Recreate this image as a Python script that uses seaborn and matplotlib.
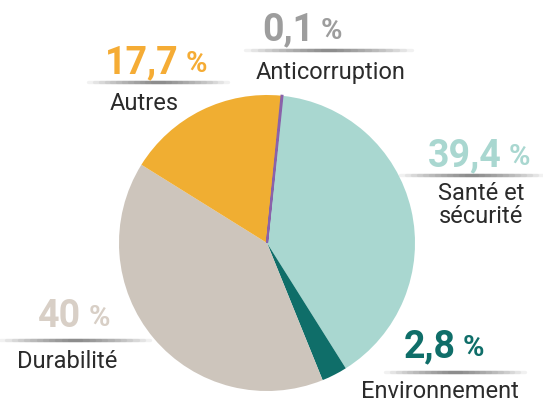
import matplotlib.pyplot as plt
from matplotlib.lines import Line2D
import seaborn as sns

sns.set_style('white')
plt.rcParams['font.family'] = ['Roboto', 'DejaVu Sans']

# slices, clockwise from the top
categories = ['Santé et\nsécurité', 'Environnement', 'Durabilité', 'Autres', 'Anticorruption']
shares = [39.4, 2.8, 40.0, 17.7, 0.1]
share_labels = ['39,4', '2,8', '40', '17,7', '0,1']
slice_colors = ['#a9d7d0', '#0f6e69', '#cdc5bc', '#f0ae32', '#8a62aa']
number_colors = ['#a9d7d0', '#0f6e69', '#d8cfc6', '#f5ac35', '#9d9d9d']

W, H = 543, 407
fig = plt.figure(figsize=(W / 100, H / 100), dpi=100)

def fx(x):
    return x / W

def fy(y):
    return 1 - y / H

# pie area: centre (267, 243), radius 148 px
ax = fig.add_axes([fx(119), fy(391), 296 / W, 296 / H])
wedges, _ = ax.pie(shares, colors=slice_colors, startangle=84, counterclock=False,
                   wedgeprops={'linewidth': 0})
wedges[-1].set_edgecolor(slice_colors[-1])
wedges[-1].set_linewidth(1.5)
ax.set_xlim(-1, 1)
ax.set_ylim(-1, 1)
ax.set_aspect('equal')
ax.axis('off')

# label placement (pixel positions): number left/baseline, line span, name centre
label_pos = [
    dict(num=(428, 166), line=(400, 543, 175), name=(481, 205)),
    dict(num=(404, 357), line=(385, 525, 372), name=(440, 391)),
    dict(num=(38, 327), line=(0, 150, 340), name=(67, 361)),
    dict(num=(105, 73), line=(88, 228, 82), name=(144, 104)),
    dict(num=(262, 40), line=(245, 412, 50), name=(331, 72)),
]

for cat, lab, col, pos in zip(categories, share_labels, number_colors, label_pos):
    # soft shadow line under the number
    x0, x1, yl = pos['line']
    mid = (x0 + x1) / 2
    half = (x1 - x0) / 2
    for i in range(12):
        frac = 1 - i / 12
        fig.add_artist(Line2D([fx(mid - half * frac), fx(mid + half * frac)], [fy(yl), fy(yl)],
                              color='#444444', alpha=0.07, linewidth=2.4,
                              solid_capstyle='round', transform=fig.transFigure))
    nx, ny = pos['num']
    t = fig.text(fx(nx), fy(ny), lab, color=col, fontsize=27, fontweight='bold',
                 ha='left', va='baseline')
    fig.canvas.draw()
    bb = t.get_window_extent()
    fig.text((bb.x1 + 7) / W, fy(ny - 1), '%', color=col, fontsize=21,
             fontweight='semibold', ha='left', va='baseline')
    cx, cy = pos['name']
    fig.text(fx(cx), fy(cy), cat, color='#2b2b2b', fontsize=17,
             ha='center', va='center', linespacing=1.05)

fig.savefig('out.png', dpi=100)
